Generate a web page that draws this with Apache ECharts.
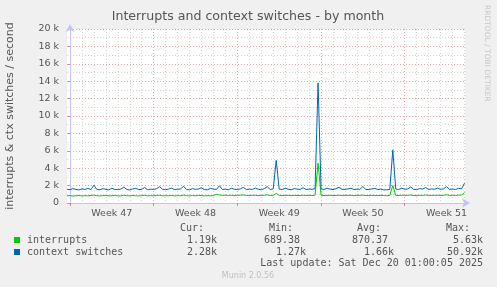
<!DOCTYPE html>
<html><head><meta charset="utf-8">
<script src="https://cdn.jsdelivr.net/npm/echarts@6/dist/echarts.min.js"></script>
<style>html,body{margin:0;padding:0;background:#f0f0f0;}#c{width:497px;height:287px;}</style>
</head><body><div id="c"></div>
<script>
// time: days relative to Monday of Week 47 (00:00); one sample every 6 hours
const startDay = -0.25;
const stepDays = 0.25;
const endDay = 33.04;
const weekTicks = [0, 7, 14, 21, 28];
const dayTicks = [0,1,2,3,4,5,6,7,8,9,10,11,12,13,14,15,16,17,18,19,20,21,22,23,24,25,26,27,28,29,30,31,32,33];
const weekLabelPos = [3.5, 10.5, 17.5, 24.5, 31.5];
const weekLabels = ['Week 47', 'Week 48', 'Week 49', 'Week 50', 'Week 51'];

const contextSwitches = [
 1580,1520,1650,1560,1500,1620,1560,1680,1540,2050,
 1560,1520,1640,1580,1500,1700,1560,1540,1600,1820,
 1550,1500,1620,1680,1540,1570,1780,1520,1600,1550,
 1650,1880,1560,1530,1600,1700,1540,1580,1620,1920,
 1550,1510,1650,1580,1600,1750,1540,1520,1680,1600,
 1560,1980,1550,1600,1520,1700,1580,1550,1620,1800,
 1540,1600,1560,1720,1580,1530,1650,1880,1550,1620,
 4900,1600,1550,1700,1580,1520,1650,1600,1560,1750,
 1540,1600,1580,1650,13800,1620,1560,1700,1600,1540,
 1650,1800,1580,1560,1620,1700,1550,1600,1580,1880,
 1560,1540,1620,1680,1550,1600,1500,1520,1550,6100,
 1600,1560,1700,1580,1620,1850,1560,1540,1650,1600,
 1780,1550,1620,1580,1700,1560,1640,1880,1570,1600,
 1550,1680,1620,2280
];
const interrupts = [
 820,850,800,830,860,810,840,820,870,900,
 830,810,850,880,820,840,860,830,810,900,
 840,820,870,830,810,850,880,820,840,830,
 860,900,820,840,830,870,810,850,830,920,
 840,820,860,830,880,850,820,840,830,860,
 1000,920,880,900,870,890,860,880,900,930,
 870,860,890,880,850,870,900,940,860,880,
 1100,880,860,870,890,850,880,870,860,900,
 870,880,860,890,4600,880,860,870,890,850,
 870,900,860,880,870,890,850,880,870,910,
 860,850,880,870,860,870,850,840,860,2000,
 880,860,900,870,880,920,860,850,890,870,
 920,860,880,870,900,860,890,950,870,880,
 860,900,920,1190
];
const legendNames = ['interrupts', 'context switches'];
const legendColors = ['#00cc00', '#0066b3'];
const statHeaders = ['Cur:', 'Min:', 'Avg:', 'Max:'];
const statsInterrupts = ['1.19k', '689.38', '870.37', '5.63k'];
const statsContext = ['2.28k', '1.27k', '1.66k', '50.92k'];

function toXY(arr){ return arr.map((v,i)=>[startDay + i*stepDays, v]); }

const chart = echarts.init(document.getElementById('c'), null, {renderer:'canvas'});
const sans = 'DejaVu Sans';
const mono = 'DejaVu Sans Mono';
const txt = '#555555';
const axisCol = '#c4c4f4';

const graphic = [
  {type:'text', x:248, y:17, style:{text:'Interrupts and context switches - by month', font:'12.6px "'+sans+'"', fill:txt, textAlign:'center', textVerticalAlign:'middle'}},
  {type:'text', x:10, y:116, rotation:Math.PI/2, style:{text:'interrupts & ctx switches / second', font:'11px "'+sans+'"', fill:txt, textAlign:'center', textVerticalAlign:'middle'}},
  {type:'text', x:487, y:5, rotation:-Math.PI/2, style:{text:'RRDTOOL / TOBI OETIKER', font:'7.5px "'+sans+'"', fill:'#c8c8c8', textAlign:'left', textVerticalAlign:'middle'}},
  {type:'text', x:248, y:276, style:{text:'Munin 2.0.56', font:'8px "'+sans+'"', fill:'#c0c0c0', textAlign:'center', textVerticalAlign:'middle'}},
  {type:'text', x:483, y:263.5, style:{text:'Last update: Sat Dec 20 01:00:05 2025', font:'10px "'+mono+'"', fill:txt, textAlign:'right', textVerticalAlign:'middle'}}
];
const headerX = [204, 293, 381, 470];
const valX1 = [217, 300, 388, 483];
const valX2 = [217, 306, 394, 483];
statHeaders.forEach((h,i)=>graphic.push({type:'text', x:headerX[i], y:228.5, style:{text:h, font:'10px "'+mono+'"', fill:txt, textAlign:'right', textVerticalAlign:'middle'}}));
const rows = [[legendNames[0], legendColors[0], statsInterrupts, valX1, 240], [legendNames[1], legendColors[1], statsContext, valX2, 252]];
rows.forEach(r=>{
  graphic.push({type:'rect', shape:{x:14, y:r[4]-3, width:6, height:6}, style:{fill:r[1]}});
  graphic.push({type:'text', x:27, y:r[4], style:{text:r[0], font:'10px "'+mono+'"', fill:txt, textAlign:'left', textVerticalAlign:'middle'}});
  r[2].forEach((v,i)=>graphic.push({type:'text', x:r[3][i], y:r[4], style:{text:v, font:'10px "'+mono+'"', fill:txt, textAlign:'right', textVerticalAlign:'middle'}}));
});

chart.setOption({
  animation:false,
  backgroundColor:'#f0f0f0',
  grid:{left:67, right:32, top:29, bottom:84, show:true, backgroundColor:'#ffffff', borderWidth:0},
  xAxis:[{
    type:'value', min:startDay, max:endDay, position:'bottom', z:2,
    axisLine:{show:true, onZero:false, lineStyle:{color:axisCol, width:1}, symbol:['none','arrow'], symbolSize:[7,8], symbolOffset:[0,5]},
    axisTick:{show:true, customValues:weekTicks, length:3, inside:false, lineStyle:{color:'#e08080'}},
    axisLabel:{show:true, customValues:weekLabelPos, margin:6, color:txt, fontFamily:sans, fontSize:9.5,
      formatter:(v)=>weekLabels[weekLabelPos.indexOf(v)] || ''},
    splitLine:{show:true, lineStyle:{color:'#e8a8a8', type:[1,2], width:1}}
  },{
    type:'value', min:startDay, max:endDay, position:'bottom', z:1,
    axisLine:{show:false},
    axisTick:{show:false, customValues:dayTicks},
    axisLabel:{show:false},
    splitLine:{show:true, lineStyle:{color:'#d4d4d4', type:[1,2], width:1}}
  }],
  yAxis:[{
    type:'value', min:0, max:20000, interval:2000, z:2,
    axisLine:{show:true, lineStyle:{color:axisCol, width:1}, symbol:['none','arrow'], symbolSize:[7,8], symbolOffset:[0,5]},
    axisTick:{show:true, length:2, lineStyle:{color:'#e08080'}},
    axisLabel:{color:txt, fontFamily:sans, fontSize:9.5, margin:8,
      formatter:(v)=> v===0 ? '0' : (v/1000)+' k'},
    splitLine:{show:true, lineStyle:{color:'#e8a8a8', type:[1,2], width:1}}
  },{
    type:'value', min:0, max:20000, interval:1000, z:1, position:'left',
    axisLine:{show:false}, axisTick:{show:false}, axisLabel:{show:false},
    splitLine:{show:true, lineStyle:{color:'#d4d4d4', type:[1,2], width:1}}
  }],
  graphic:graphic,
  series:[
    {name:legendNames[0], type:'line', xAxisIndex:0, yAxisIndex:0, data:toXY(interrupts), symbol:'none', z:5,
      lineStyle:{color:legendColors[0], width:1}, itemStyle:{color:legendColors[0]}},
    {name:legendNames[1], type:'line', xAxisIndex:0, yAxisIndex:0, data:toXY(contextSwitches), symbol:'none', z:6,
      lineStyle:{color:legendColors[1], width:1}, itemStyle:{color:legendColors[1]}}
  ]
});
</script></body></html>
